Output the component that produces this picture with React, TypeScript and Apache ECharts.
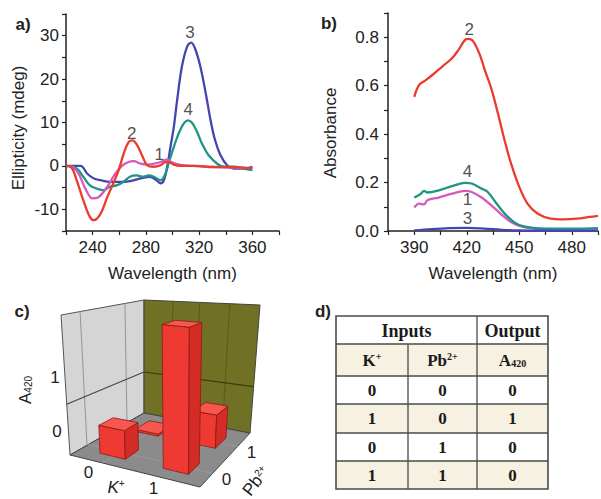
import React, { useEffect, useRef } from "react";
import * as echarts from "echarts";

// ---------------- data ----------------
// a) CD spectra: [wavelength (nm), ellipticity (mdeg)]
const cdCurve1 = [[220,0],[225,-0.3],[229.5,-1.8],[234.5,-5.2],[240,-7.5],[244.5,-7.2],[251,-4.8],[257,-1.8],[262,0],[267,0.9],[271,1.1],[276,0.5],[281,0.3],[286,0.5],[291,0.9],[296,1.5],[299,0.9],[305,0.3],[315,0],[330,-0.2],[345,-0.4],[360,-0.5]];
const cdCurve2 = [[220,0],[224,-0.3],[228,-3.3],[233,-7.9],[238,-11.8],[241,-12.5],[246,-11],[251,-7.2],[256,-3.7],[259.6,-1],[263.3,2.8],[267,5.5],[270,5.9],[273.4,4.8],[277,2.5],[281,0.15],[286,-0.2],[291,0.15],[294.7,0.9],[297,0.9],[301,0.3],[306,0],[318,0],[330,-0.3],[345,-0.3],[360,-0.6]];
const cdCurve3 = [[220,0],[231,0],[236,-1.8],[241,-2.9],[246,-3.3],[253,-3.7],[261,-3.7],[268,-3.5],[276,-2.9],[283,-2.5],[288,-3.3],[291,-4],[293.5,-3.3],[296,-0.2],[298.5,4.4],[301,9],[303.5,15.2],[307,22.8],[311,27.5],[314,28.4],[317,27],[321,22.8],[325,16.7],[328.6,10.5],[332,5.9],[336,2.5],[341,0.15],[346,-0.6],[353.7,-0.6],[360,-0.2]];
const cdCurve4 = [[220,0],[228,-0.6],[233,-2.5],[238,-4.5],[243,-5.2],[248,-5.6],[253,-4.8],[258,-4.5],[263,-3.7],[268,-2.5],[273,-2.2],[278,-2.5],[282,-2.2],[286,-2.5],[291,-3.3],[294.7,-1.8],[297,0.5],[301,4.4],[304.7,7.5],[308.5,9.8],[311.5,10.5],[314.8,9.9],[318.5,7.8],[322,5.2],[327,2.5],[333.6,0.5],[338.6,-0.2],[346,-0.2],[353.7,-0.6],[360,-1]];
const cdLabels = [["3", 313.2, 30.8], ["4", 311.9, 13], ["2", 269.3, 7.5], ["1", 290.1, 2.6]];

// b) absorbance: [wavelength (nm), absorbance]
const absCurve1 = [[390,0.097],[392.8,0.113],[395.6,0.11],[397.5,0.127],[404,0.138],[411.6,0.154],[419,0.166],[422.8,0.161],[428.5,0.138],[434,0.106],[439.7,0.069],[445.3,0.037],[451,0.019],[458.5,0.01],[475,0.006],[495,0.008]];
const absCurve2 = [[390,0.554],[392.8,0.603],[396.6,0.623],[400.3,0.644],[406,0.679],[411.6,0.713],[415.3,0.748],[419,0.789],[421,0.793],[423.8,0.782],[427.5,0.727],[430.3,0.665],[434,0.589],[437.8,0.486],[441.6,0.375],[445.3,0.279],[450,0.182],[454.7,0.113],[460.4,0.072],[467.9,0.051],[475.4,0.048],[482.9,0.051],[490.4,0.058],[495,0.062]];
const absCurve3 = [[390,0.002],[400,0.008],[410,0.012],[420,0.013],[430,0.01],[440,0.005],[450,0.002],[460,0.001],[480,0],[495,0]];
const absCurve4 = [[390,0.138],[393.8,0.154],[395.6,0.166],[397.5,0.159],[404,0.168],[411.6,0.185],[419,0.199],[422.8,0.196],[428.5,0.175],[432,0.161],[437.8,0.106],[443.5,0.058],[449,0.028],[456.6,0.014],[466,0.01],[484.7,0.01],[495,0.012]];
const absLabels = [["2", 421.4, 0.83], ["4", 420.4, 0.245], ["1", 420.4, 0.128], ["3", 420.4, 0.052]];

// c) 3D bars: A420 for each K+/Pb2+ input combination
const barK = [0, 1, 0, 1];
const barPb = [0, 0, 1, 1];
const barA420 = [0.165, 0.8, 0.013, 0.2];
const barTickLabels = ["0", "1"];
const barZLabels = ["0", "1"];

// d) truth table
const tableK = [0, 1, 0, 1];
const tablePb = [0, 0, 1, 1];
const tableOut = [0, 1, 0, 0];

// ---------------- styles ----------------
const FONT = '"Liberation Sans", Arial, Helvetica, sans-serif';
const SERIF = '"Liberation Serif", "Times New Roman", serif';
const INK = "#222";
const RED = "#ec3a2c";
const MAGENTA = "#d45bbd";
const BLUE = "#4545b0";
const TEAL = "#1f9484";

function lineSeries(data: number[][], color: string, idx: number, z: number) {
  return {
    type: "line",
    xAxisIndex: idx,
    yAxisIndex: idx,
    data,
    showSymbol: false,
    symbol: "none",
    smooth: 0.35,
    z,
    lineStyle: { color, width: 2.3 },
    silent: true,
  };
}

function labelSeries(labels: any[], idx: number) {
  return {
    type: "scatter",
    xAxisIndex: idx,
    yAxisIndex: idx,
    symbolSize: 0,
    z: 10,
    silent: true,
    data: labels.map((l) => ({ name: l[0], value: [l[1], l[2]] })),
    label: {
      show: true,
      position: "inside",
      formatter: "{b}",
      fontSize: 17,
      color: INK,
      fontFamily: FONT,
    },
  };
}

function axisCommon() {
  return {
    nameLocation: "middle",
    nameTextStyle: { fontSize: 17, color: INK, fontFamily: FONT },
    axisLine: { show: true, onZero: false, lineStyle: { color: INK, width: 1.5 } },
    axisTick: { show: true, length: 4, lineStyle: { color: INK, width: 1.2 } },
    splitLine: { show: false },
  };
}

function txt(x: number, y: number, text: string, opts: any = {}) {
  const { rotation, ...style } = opts;
  return {
    type: "text",
    x,
    y,
    rotation: rotation || 0,
    silent: true,
    style: {
      text,
      x: 0,
      y: 0,
      fill: INK,
      fontFamily: FONT,
      fontSize: 17,
      align: "center",
      textAlign: "center",
      verticalAlign: "middle",
      textVerticalAlign: "middle",
      ...style,
    },
  };
}

function buildPanelC() {
  const A = [70, 455], B = [200, 487], C = [250, 433], D = [144, 413];
  const oA = [-9, -140], oB = [1, -158], oC = [10, -128], oD = [0, -113];
  const bil = (p: number[], q: number[], r: number[], s: number[], u: number, v: number) => [
    p[0] * (1 - u) * (1 - v) + q[0] * u * (1 - v) + r[0] * u * v + s[0] * (1 - u) * v,
    p[1] * (1 - u) * (1 - v) + q[1] * u * (1 - v) + r[1] * u * v + s[1] * (1 - u) * v,
  ];
  const proj = (u: number, v: number, f: number) => {
    const b = bil(A, B, C, D, u, v);
    const o = bil(oA, oB, oC, oD, u, v);
    return [b[0] + o[0] * f, b[1] + o[1] * f];
  };
  const zMax = 0.82;
  const pos = (k: number) => 0.25 + 0.5 * k;
  const els: any[] = [];
  const poly = (pts: number[][], fill: string, stroke: string, lw = 1) => ({
    type: "polygon", silent: true, shape: { points: pts }, style: { fill, stroke, lineWidth: lw, lineJoin: "round" },
  });
  const seg = (p: number[], q: number[], stroke: string, lw = 1) => ({
    type: "line", silent: true, shape: { x1: p[0], y1: p[1], x2: q[0], y2: q[1] }, style: { stroke, lineWidth: lw },
  });
  // walls and floor
  els.push(poly([proj(0, 0, 0), proj(0, 1, 0), proj(0, 1, 1), proj(0, 0, 1)], "#d5d5d5", "#555", 1));
  els.push(poly([proj(0, 1, 0), proj(1, 1, 0), proj(1, 1, 1), proj(0, 1, 1)], "#707124", "#444", 1));
  els.push(poly([proj(0, 0, 0), proj(1, 0, 0), proj(1, 1, 0), proj(0, 1, 0)], "#8b8b8b", "#444", 1));
  // floor grid
  [0.25, 0.75].forEach((t) => {
    els.push(seg(proj(t, 0, 0), proj(t, 1, 0), "#9c9c9c", 0.8));
    els.push(seg(proj(0, t, 0), proj(1, t, 0), "#9c9c9c", 0.8));
  });
  // wall grid
  [0.23, 0.77].forEach((t) => els.push(seg(proj(0, t, 0), proj(0, t, 1), "#959595", 1)));
  [0.25, 0.48, 0.74].forEach((t) => els.push(seg(proj(t, 1, 0), proj(t, 1, 1), "#5a5b18", 1)));
  const gz = 0.363;
  els.push(seg(proj(0, 0, gz), proj(0, 1, gz), "#444", 1.2));
  els.push(seg(proj(0, 1, gz), proj(1, 1, gz), "#3a3a10", 1.2));
  // bars, back to front
  const h = 0.1;
  const order = barA420.map((_, i) => i).sort((a, b) => (barPb[b] - barPb[a]) || (barK[a] - barK[b]));
  order.forEach((i) => {
    const u = pos(barK[i]), v = pos(barPb[i]);
    const f = barA420[i] / zMax;
    const u0 = u - h, u1 = u + h, v0 = v - h, v1 = v + h;
    els.push(poly([proj(u0, v0, 0), proj(u1, v0, 0), proj(u1, v0, f), proj(u0, v0, f)], "#ef3a34", "#8a1a14", 0.8));
    els.push(poly([proj(u1, v0, 0), proj(u1, v1, 0), proj(u1, v1, f), proj(u1, v0, f)], "#d42b26", "#8a1a14", 0.8));
    els.push(poly([proj(u0, v0, f), proj(u1, v0, f), proj(u1, v1, f), proj(u0, v1, f)], "#f7574e", "#8a1a14", 0.8));
  });
  // axis labels
  barTickLabels.forEach((t, k) => {
    const p = proj(pos(k), 0, 0);
    els.push(txt(p[0] - 14, p[1] + 9, t));
    const q = proj(1, pos(k), 0);
    els.push(txt(q[0] + 14, q[1] + 6, t));
  });
  els.push(txt(116, 487, "{i|K}{p|+}", {
    rich: { i: { fontSize: 17, fontStyle: "italic", fontFamily: FONT, fill: INK }, p: { fontSize: 10, verticalAlign: "top", fontFamily: FONT, fill: INK } },
  }));
  els.push(txt(256, 481, "{n|Pb}{p|2+}", {
    rotation: (52 * Math.PI) / 180,
    rich: { n: { fontSize: 17, fontFamily: FONT, fill: INK }, p: { fontSize: 10, verticalAlign: "top", fontFamily: FONT, fill: INK } },
  }));
  els.push(txt(57, 431, barZLabels[0]));
  els.push(txt(55, 377, barZLabels[1]));
  els.push(txt(25, 390, "{n|A}{s|420}", {
    rotation: Math.PI / 2,
    rich: { n: { fontSize: 17, fontFamily: FONT, fill: INK }, s: { fontSize: 10, verticalAlign: "bottom", fontFamily: FONT, fill: INK } },
  }));
  return els;
}

function buildTable() {
  const cx = [336, 408, 477, 548];
  const ry = [316, 344, 376, 404, 433, 461, 489];
  const els: any[] = [];
  const cream = "#f7f1e1";
  for (let r = 0; r < 6; r++) {
    els.push({ type: "rect", silent: true, shape: { x: cx[0], y: ry[r], width: cx[3] - cx[0], height: ry[r + 1] - ry[r] }, style: { fill: r % 2 === 1 ? cream : "#fff" } });
  }
  const stroke = "#4a4a4a";
  for (let r = 1; r < 6; r++) {
    els.push({ type: "line", silent: true, shape: { x1: cx[0], y1: ry[r], x2: cx[3], y2: ry[r] }, style: { stroke, lineWidth: 1.3 } });
  }
  els.push({ type: "line", silent: true, shape: { x1: cx[2], y1: ry[0], x2: cx[2], y2: ry[6] }, style: { stroke, lineWidth: 1.3 } });
  els.push({ type: "line", silent: true, shape: { x1: cx[1], y1: ry[1], x2: cx[1], y2: ry[6] }, style: { stroke, lineWidth: 1.3 } });
  els.push({ type: "rect", silent: true, shape: { x: cx[0], y: ry[0], width: cx[3] - cx[0], height: ry[6] - ry[0] }, style: { fill: "none", stroke, lineWidth: 1.6 } });
  const tf = { fontFamily: SERIF, fontWeight: "bold", fill: "#1a1a1a" };
  const mid = (a: number, b: number) => (a + b) / 2;
  els.push(txt(mid(cx[0], cx[2]), mid(ry[0], ry[1]) + 1, "Inputs", { ...tf, fontSize: 18 }));
  els.push(txt(mid(cx[2], cx[3]), mid(ry[0], ry[1]) + 1, "Output", { ...tf, fontSize: 18 }));
  const rich = {
    n: { fontSize: 17, ...tf },
    p: { fontSize: 10, verticalAlign: "top", ...tf },
    s: { fontSize: 10, verticalAlign: "bottom", ...tf },
  };
  els.push(txt(mid(cx[0], cx[1]), mid(ry[1], ry[2]), "{n|K}{p|+}", { rich }));
  els.push(txt(mid(cx[1], cx[2]), mid(ry[1], ry[2]), "{n|Pb}{p|2+}", { rich }));
  els.push(txt(mid(cx[2], cx[3]), mid(ry[1], ry[2]), "{n|A}{s|420}", { rich }));
  tableK.forEach((k, i) => {
    const y = mid(ry[i + 2], ry[i + 3]);
    els.push(txt(mid(cx[0], cx[1]), y, String(k), { ...tf, fontSize: 17 }));
    els.push(txt(mid(cx[1], cx[2]), y, String(tablePb[i]), { ...tf, fontSize: 17 }));
    els.push(txt(mid(cx[2], cx[3]), y, String(tableOut[i]), { ...tf, fontSize: 17 }));
  });
  return els;
}

export default function App() {
  const ref = useRef<HTMLDivElement>(null);
  useEffect(() => {
    if (!ref.current) return;
    const chart = echarts.init(ref.current, undefined, { renderer: "svg" });
    const labelStyle = { fontSize: 17, color: INK, fontFamily: FONT };
    const option: any = {
      animation: false,
      backgroundColor: "#ffffff",
      grid: [
        { left: 66, top: 14, width: 213, height: 217 },
        { left: 388, top: 13, width: 212, height: 218 },
      ],
      xAxis: [
        {
          ...axisCommon(), gridIndex: 0, type: "value", min: 220, max: 380, interval: 20,
          name: "Wavelength (nm)", nameGap: 34,
          axisLabel: { ...labelStyle, margin: 8, formatter: (v: number) => (v % 40 === 0 ? String(v) : "") },
        },
        {
          ...axisCommon(), gridIndex: 1, type: "value", min: 375, max: 495, interval: 15,
          name: "Wavelength (nm)", nameGap: 34,
          axisLabel: { ...labelStyle, margin: 8, formatter: (v: number) => (v % 30 === 0 ? String(v) : "") },
        },
      ],
      yAxis: [
        {
          ...axisCommon(), gridIndex: 0, type: "value", min: -15, max: 35, interval: 5,
          name: "Ellipticity (mdeg)", nameGap: 39,
          nameTextStyle: { fontSize: 17, color: INK, fontFamily: FONT, padding: [0, 11, 0, 0] },
          axisLabel: { ...labelStyle, margin: 7, formatter: (v: number) => (v % 10 === 0 ? String(v) : "") },
        },
        {
          ...axisCommon(), gridIndex: 1, type: "value", min: 0, max: 0.9, interval: 0.1,
          name: "Absorbance", nameGap: 49,
          nameTextStyle: { fontSize: 17, color: INK, fontFamily: FONT, padding: [0, 22, 0, 0] },
          axisLabel: { ...labelStyle, margin: 9, formatter: (v: number) => (Math.round(v * 10) % 2 === 0 && v < 0.85 ? v.toFixed(1) : "") },
        },
      ],
      series: [
        lineSeries(cdCurve3, BLUE, 0, 2),
        lineSeries(cdCurve4, TEAL, 0, 3),
        lineSeries(cdCurve1, MAGENTA, 0, 4),
        lineSeries(cdCurve2, RED, 0, 5),
        labelSeries(cdLabels, 0),
        lineSeries(absCurve2, RED, 1, 2),
        lineSeries(absCurve1, MAGENTA, 1, 3),
        lineSeries(absCurve4, TEAL, 1, 4),
        lineSeries(absCurve3, BLUE, 1, 5),
        labelSeries(absLabels, 1),
      ],
      graphic: {
        elements: [
          txt(23, 24, "a)", { fontWeight: "bold", fontSize: 17 }),
          txt(329, 23, "b)", { fontWeight: "bold", fontSize: 17 }),
          txt(22, 311, "c)", { fontWeight: "bold", fontSize: 17 }),
          txt(323, 311, "d)", { fontWeight: "bold", fontSize: 17 }),
          ...buildPanelC(),
          ...buildTable(),
        ],
      },
    };
    chart.setOption(option);
    return () => chart.dispose();
  }, []);
  return (
    <div
      ref={ref}
      style={{ position: "fixed", left: 0, top: 0, width: 601, height: 499, background: "#fff" }}
    />
  );
}
